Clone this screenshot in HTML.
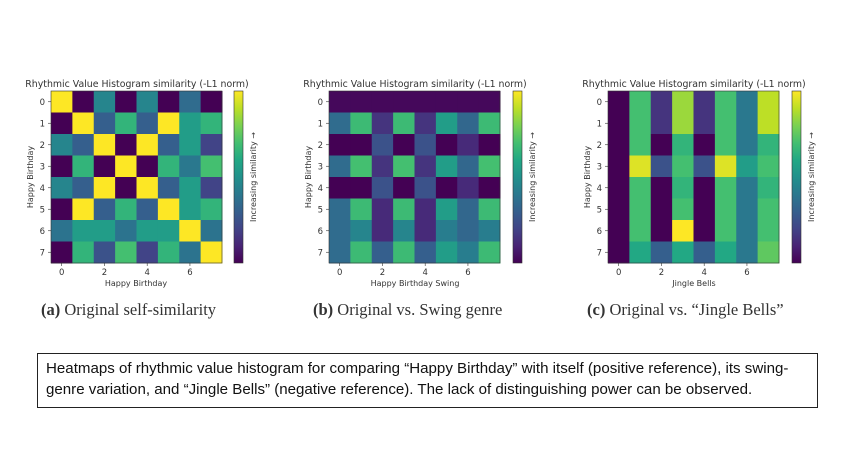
<!DOCTYPE html>
<html><head><meta charset="utf-8"><style>
html,body{margin:0;padding:0;background:#fff;width:850px;height:450px;overflow:hidden}
svg text{font-family:"DejaVu Sans","Liberation Sans",sans-serif;fill:#333}
.cap{position:absolute;top:300px;font-family:"Liberation Serif",serif;font-size:16.5px;color:#333;white-space:nowrap}
.box{position:absolute;left:37px;top:353px;width:781px;height:55px;border:1px solid #222;box-sizing:border-box;font-family:"Liberation Sans",sans-serif;font-size:15.1px;line-height:21px;padding:4px 8px;color:#111;white-space:nowrap;overflow:hidden}
</style></head><body>
<svg id="s" width="850" height="450" style="position:absolute;left:0;top:0">
<defs><linearGradient id="vg" x1="0" y1="1" x2="0" y2="0">
<stop offset="0" stop-color="#440154"/><stop offset=".1" stop-color="#482475"/><stop offset=".2" stop-color="#414487"/><stop offset=".3" stop-color="#355f8d"/><stop offset=".4" stop-color="#2a788e"/><stop offset=".5" stop-color="#21918c"/><stop offset=".6" stop-color="#22a884"/><stop offset=".7" stop-color="#44bf70"/><stop offset=".8" stop-color="#7ad151"/><stop offset=".9" stop-color="#bddf26"/><stop offset="1" stop-color="#fde725"/></linearGradient></defs>
<g id="cells"></g>
<g font-size="9.4">
<text x="137" y="87" text-anchor="middle">Rhythmic Value Histogram similarity (-L1 norm)</text>
<text x="415" y="87" text-anchor="middle">Rhythmic Value Histogram similarity (-L1 norm)</text>
<text x="694" y="87" text-anchor="middle">Rhythmic Value Histogram similarity (-L1 norm)</text>
</g>
<g font-size="8" text-anchor="middle">
<text x="136" y="286">Happy Birthday</text>
<text x="415" y="286">Happy Birthday Swing</text>
<text x="694" y="286">Jingle Bells</text>
<text transform="translate(33,177) rotate(-90)">Happy Birthday</text>
<text transform="translate(311,177) rotate(-90)">Happy Birthday</text>
<text transform="translate(590,177) rotate(-90)">Happy Birthday</text>
<text transform="translate(256,177) rotate(-90)">Increasing similarity →</text>
<text transform="translate(535,177) rotate(-90)">Increasing similarity →</text>
<text transform="translate(814,177) rotate(-90)">Increasing similarity →</text>
</g>
<g font-size="8.5" id="ticks"></g>
</svg>
<div class="cap" style="left:41px"><b>(a)</b> Original self-similarity</div>
<div class="cap" style="left:313px"><b>(b)</b> Original vs. Swing genre</div>
<div class="cap" style="left:587px"><b>(c)</b> Original vs. “Jingle Bells”</div>
<div class="box">Heatmaps of rhythmic value histogram for comparing “Happy Birthday” with itself (positive reference), its swing-<br>genre variation, and “Jingle Bells” (negative reference). The lack of distinguishing power can be observed.</div>
<script>
(function(){
var V=[[0,"#440154"],[.1,"#482475"],[.2,"#414487"],[.3,"#355f8d"],[.4,"#2a788e"],[.5,"#21918c"],[.6,"#22a884"],[.7,"#44bf70"],[.8,"#7ad151"],[.9,"#bddf26"],[1,"#fde725"]];
function h(c){return [1,3,5].map(function(i){return parseInt(c.substr(i,2),16)})}
function vir(t){for(var i=0;i<10;i++){if(t<=V[i+1][0]){var f=(t-V[i][0])/.1,a=h(V[i][1]),b=h(V[i+1][1]);return "rgb("+a.map(function(x,k){return Math.round(x+(b[k]-x)*f)}).join(",")+")"}}return V[10][1]}
var M1=[[1,0,.45,0,.45,0,.35,0],[0,1,.3,.65,.3,1,.55,.65],[.45,.3,1,0,1,.3,.55,.2],[0,.65,0,1,0,.65,.4,.7],[.45,.3,1,0,1,.3,.55,.2],[0,1,.3,.65,.3,1,.55,.65],[.38,.55,.55,.38,.55,.55,1,.38],[0,.65,.25,.7,.2,.65,.38,1]];
var M2=[[.02,.02,.02,.02,.02,.02,.02,.02],[.35,.68,.15,.68,.15,.55,.33,.68],[0,0,.25,0,.25,0,.12,0],[.35,.7,.15,.7,.15,.55,.33,.7],[0,0,.25,0,.25,0,.12,0],[.35,.68,.12,.68,.12,.55,.33,.68],[.35,.45,.12,.45,.12,.42,.33,.42],[.35,.68,.3,.68,.3,.55,.42,.68]];
var M3=[[0,.7,.15,.85,.15,.7,.4,.9],[0,.7,.15,.85,.15,.7,.4,.9],[0,.7,0,.65,0,.7,.4,.65],[0,.95,.25,.7,.25,.95,.55,.7],[0,.7,0,.65,0,.7,.4,.65],[0,.7,0,.7,0,.7,.4,.7],[0,.7,0,1,0,.7,.4,.7],[0,.6,.3,.6,.3,.6,.4,.75]];
var P=[[51,234,M1],[329,513,M2],[608,792,M3]],T0=91,W=171,H=172,s="",t="";
P.forEach(function(p){var x0=p[0],cw=W/8,ch=H/8;
for(var r=0;r<8;r++)for(var c=0;c<8;c++)s+='<rect x="'+(x0+c*cw)+'" y="'+(T0+r*ch)+'" width="'+(cw+.5)+'" height="'+(ch+.5)+'" fill="'+vir(p[2][r][c])+'"/>';
s+='<rect x="'+x0+'" y="'+T0+'" width="'+W+'" height="'+H+'" fill="none" stroke="#333" stroke-width=".6"/>';
s+='<rect x="'+p[1]+'" y="'+T0+'" width="9" height="'+H+'" fill="url(#vg)" stroke="#333" stroke-width=".6"/>';
for(var i=0;i<8;i++){var y=T0+(i+.5)*ch;s+='<line x1="'+(x0-3)+'" x2="'+x0+'" y1="'+y+'" y2="'+y+'" stroke="#333" stroke-width=".6"/>';t+='<text x="'+(x0-6)+'" y="'+(y+3)+'" text-anchor="end">'+i+'</text>';}
for(var i=0;i<8;i+=2){var x=x0+(i+.5)*cw;s+='<line y1="'+(T0+H)+'" y2="'+(T0+H+3)+'" x1="'+x+'" x2="'+x+'" stroke="#333" stroke-width=".6"/>';t+='<text x="'+x+'" y="'+(T0+H+12)+'" text-anchor="middle">'+i+'</text>';}
});
document.getElementById("cells").innerHTML=s;document.getElementById("ticks").innerHTML=t;
})();
</script>
</body></html>
